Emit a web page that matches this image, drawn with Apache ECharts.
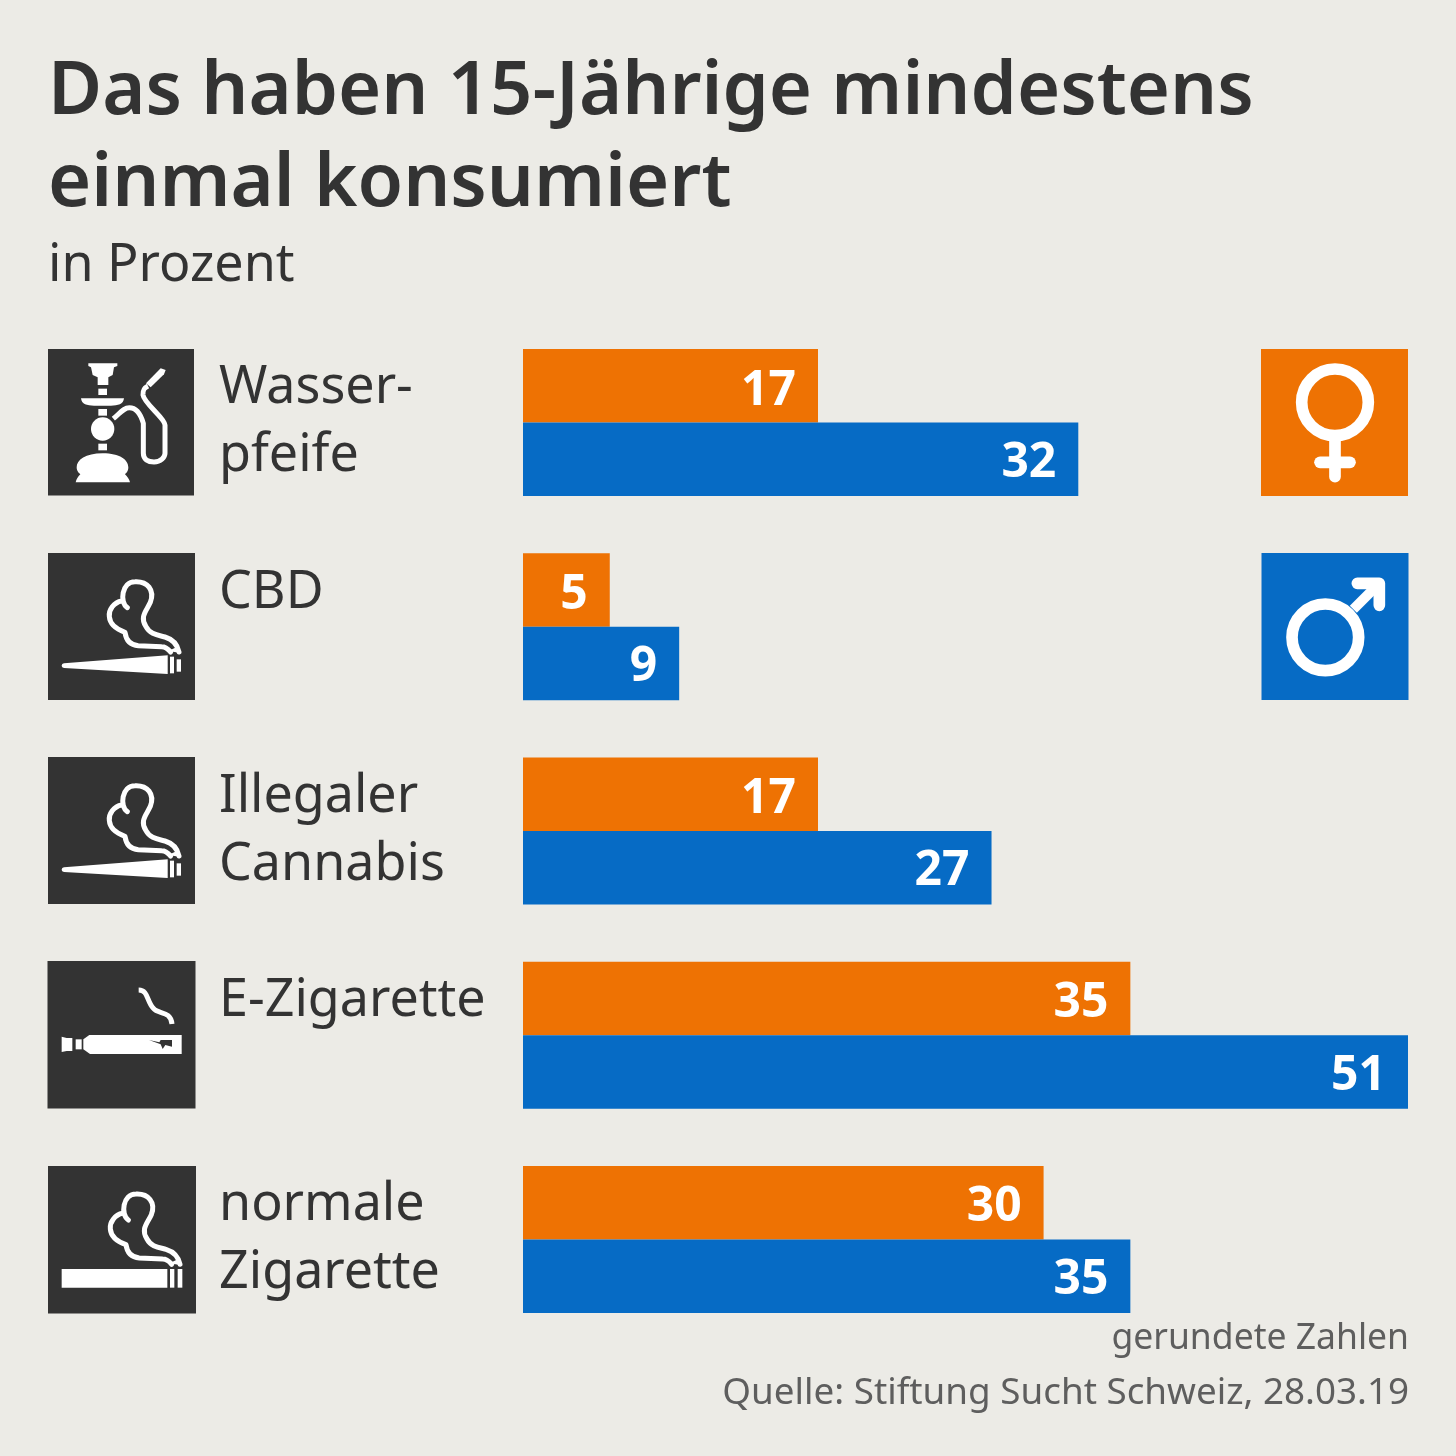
<!DOCTYPE html>
<html>
<head>
<meta charset="utf-8">
<script src="https://cdn.jsdelivr.net/npm/echarts@6/dist/echarts.min.js"></script>
<style>
html,body{margin:0;padding:0;background:#ecebe6;}
#chart{width:1456px;height:1456px;}
</style>
</head>
<body>
<div id="chart"></div>
<script>
var categories = ["Wasser-\npfeife", "CBD", "Illegaler\nCannabis", "E-Zigarette", "normale\nZigarette"];
var girls = [17, 5, 17, 35, 30];
var boys = [32, 9, 27, 51, 35];
var titleText = "Das haben 15-Jährige mindestens\neinmal konsumiert";
var subText = "in Prozent";
var noteText = "gerundete Zahlen";
var sourceText = "Quelle: Stiftung Sucht Schweiz, 28.03.19";

var FONT = "'Noto Sans', sans-serif";
var DARK = "#333333", ORANGE = "#ee7203", BLUE = "#066bc5", WHITE = "#ffffff";

// the graphic component has no plain path type, so each svg path is registered as a shape
var shapeCount = 0;
function pathType(d) {
	var name = "iconPath" + (shapeCount++);
	echarts.graphic.registerShape(name, echarts.graphic.extendPath(d));
	return name;
}
// icon paths are in the 3x space of a crop, the group scales them back
function icon(x, y, children) {
	return {type: "group", x: x, y: y, scaleX: 1 / 3, scaleY: 1 / 3, silent: true, children: children};
}
function fill(d, color) {
	return {type: pathType(d), style: {fill: color || WHITE, stroke: null}};
}
function line(d, w, cap) {
	return {type: pathType(d), style: {fill: "none", stroke: WHITE, lineWidth: w, lineCap: cap || "round", lineJoin: "round"}};
}
function ring(cx, cy, r, w) {
	return {type: "circle", shape: {cx: cx, cy: cy, r: r}, style: {fill: "none", stroke: WHITE, lineWidth: w}};
}
function box(x, y, w, h, color) {
	return {type: "rect", silent: true, shape: {x: x, y: y, width: w, height: h}, style: {fill: color}};
}
function smoke(dx, dy) {
	return {
		type: "group", x: dx, y: dy,
		children: [
			line("M262 188 C238 172 245 110 285 110 C322 108 345 135 331 172 C320 197 298 215 318 245 C330 268 352 270 375 276 C395 282 412 298 417 321", 15),
			line("M245 168 C222 172 205 195 208 215 C210 240 235 255 255 262 C258 285 270 300 295 302 L365 305 C380 305 386 314 392 321", 15),
			fill("M385 318 L422 324 L412 305 Z")
		]
	};
}

function hookah() {
	return [
		fill("M145 70 H232 V78 L222 82 L218 105 L205 112 V135 H173 V112 L158 105 L153 82 L145 78 Z"),
		fill("M175 146 H201 V165 H175 Z"),
		fill("M123 175 H252 C250 195 230 198 205 197 H170 C145 198 125 195 123 175 Z"),
		fill("M175 207 H201 V227 H175 Z"),
		{type: "circle", shape: {cx: 188, cy: 267, r: 35}, style: {fill: WHITE}},
		fill("M175 311 H201 V331 H175 Z"),
		fill("M188 340 C240 340 265 360 265 382 C265 395 258 400 255 403 C262 410 268 418 270 427 H107 C109 418 114 410 121 403 C118 400 110 395 110 382 C110 360 136 340 188 340 Z"),
		line("M220 236 C240 220 250 203 268 203 C290 203 303 225 310 250 V340 C310 358 324 366 342 366 C362 366 375 352 375 340 V255 C375 235 312 190 309 165 C308 150 312 144 324 138", 15, "butt"),
		fill("M318 130 L362 85 L377 90 L372 103 L332 142 Z")
	];
}
function joint() {
	return [
		fill("M65 362 Q65 356 72 355 L383 331 V387 L72 369 Q65 368 65 362 Z"),
		fill("M390 335 H402 V385 H390 Z"),
		fill("M410 343 H423 V380 H410 Z"),
		smoke(0, 0)
	];
}
function ecig() {
	return [
		fill("M130 268 L148 255 H425 V312 H150 L130 298 Z"),
		fill("M107 268 H125 V298 H107 Z"),
		fill("M65 260 L80 264 H97 V303 H80 L65 306 Z"),
		fill("M327 270 L362 283 L368 297 L376 285 L396 290 V270 H362 L358 277 Z", DARK),
		line("M296 120 C325 120 320 155 340 175 C355 195 392 180 396 222", 15, "butt")
	];
}
function cigarette() {
	return [
		fill("M65 342 H382 V398 H65 Z"),
		fill("M390 342 H403 V398 H390 Z"),
		fill("M413 342 H427 V398 H413 Z"),
		smoke(3, 7)
	];
}
function female() {
	return [
		ring(255, 187, 100, 35),
		line("M255 300 V410", 35),
		line("M210 367 H300", 35)
	];
}
function male() {
	return [
		ring(226, 892, 100, 35),
		line("M310 808 L385 733", 30, "butt"),
		line("M322 730 H388 V796", 35)
	];
}

var chart = echarts.init(document.getElementById("chart"));
chart.setOption({
	animation: false,
	backgroundColor: "#ecebe6",
	title: {
		left: 48,
		top: 47,
		padding: 0,
		text: titleText,
		textStyle: {fontFamily: FONT, fontSize: 74, fontWeight: 600, color: DARK, lineHeight: 92},
		subtext: subText,
		subtextStyle: {fontFamily: FONT, fontSize: 52, color: DARK, lineHeight: 60},
		itemGap: 5
	},
	grid: {left: 523, top: 320.5, width: 885, height: 1021},
	xAxis: {type: "value", min: 0, max: 51, show: false},
	yAxis: {
		type: "category",
		inverse: true,
		data: categories,
		axisLine: {show: false},
		axisTick: {show: false},
		splitLine: {show: false},
		axisLabel: {
			align: "left",
			margin: 304,
			fontFamily: FONT,
			fontSize: 52,
			lineHeight: 68,
			color: DARK,
			// one-line names sit on the first line, not in the middle of the row
			formatter: function (v) { return v.indexOf("\n") < 0 ? v + "\n " : v; }
		}
	},
	series: [
		{
			name: "Mädchen", type: "bar", data: girls, barWidth: 73.5, barGap: 0,
			itemStyle: {color: ORANGE},
			label: {show: true, position: "insideRight", distance: 22, offset: [0, 5], color: WHITE, fontFamily: FONT, fontWeight: 700, fontSize: 48}
		},
		{
			name: "Jungen", type: "bar", data: boys, barWidth: 73.5, barGap: 0,
			itemStyle: {color: BLUE},
			label: {show: true, position: "insideRight", distance: 22, offset: [0, 4], color: WHITE, fontFamily: FONT, fontWeight: 700, fontSize: 48}
		}
	],
	graphic: [
		box(48, 349, 146, 146.5, DARK),
		box(48, 553, 147, 147, DARK),
		box(48, 757, 147, 147, DARK),
		box(47.5, 961, 148, 147.5, DARK),
		box(48, 1166, 148, 147.5, DARK),
		box(1261, 349, 147, 147, ORANGE),
		box(1261.5, 553, 147, 147, BLUE),
		icon(40, 340, hookah()),
		icon(40, 545, joint()),
		icon(40, 749, joint()),
		icon(40, 950, ecig()),
		icon(40, 1155, cigarette()),
		icon(1250, 340, female()),
		icon(1250, 340, male()),
		{type: "text", silent: true, style: {x: 1409, y: 1339, text: noteText, align: "right", verticalAlign: "middle", font: "35.5px " + FONT, fill: "#5e5e5e"}},
		{type: "text", silent: true, style: {x: 1409, y: 1394, text: sourceText, align: "right", verticalAlign: "middle", font: "36.8px " + FONT, fill: "#5e5e5e"}}
	]
});
</script>
</body>
</html>
